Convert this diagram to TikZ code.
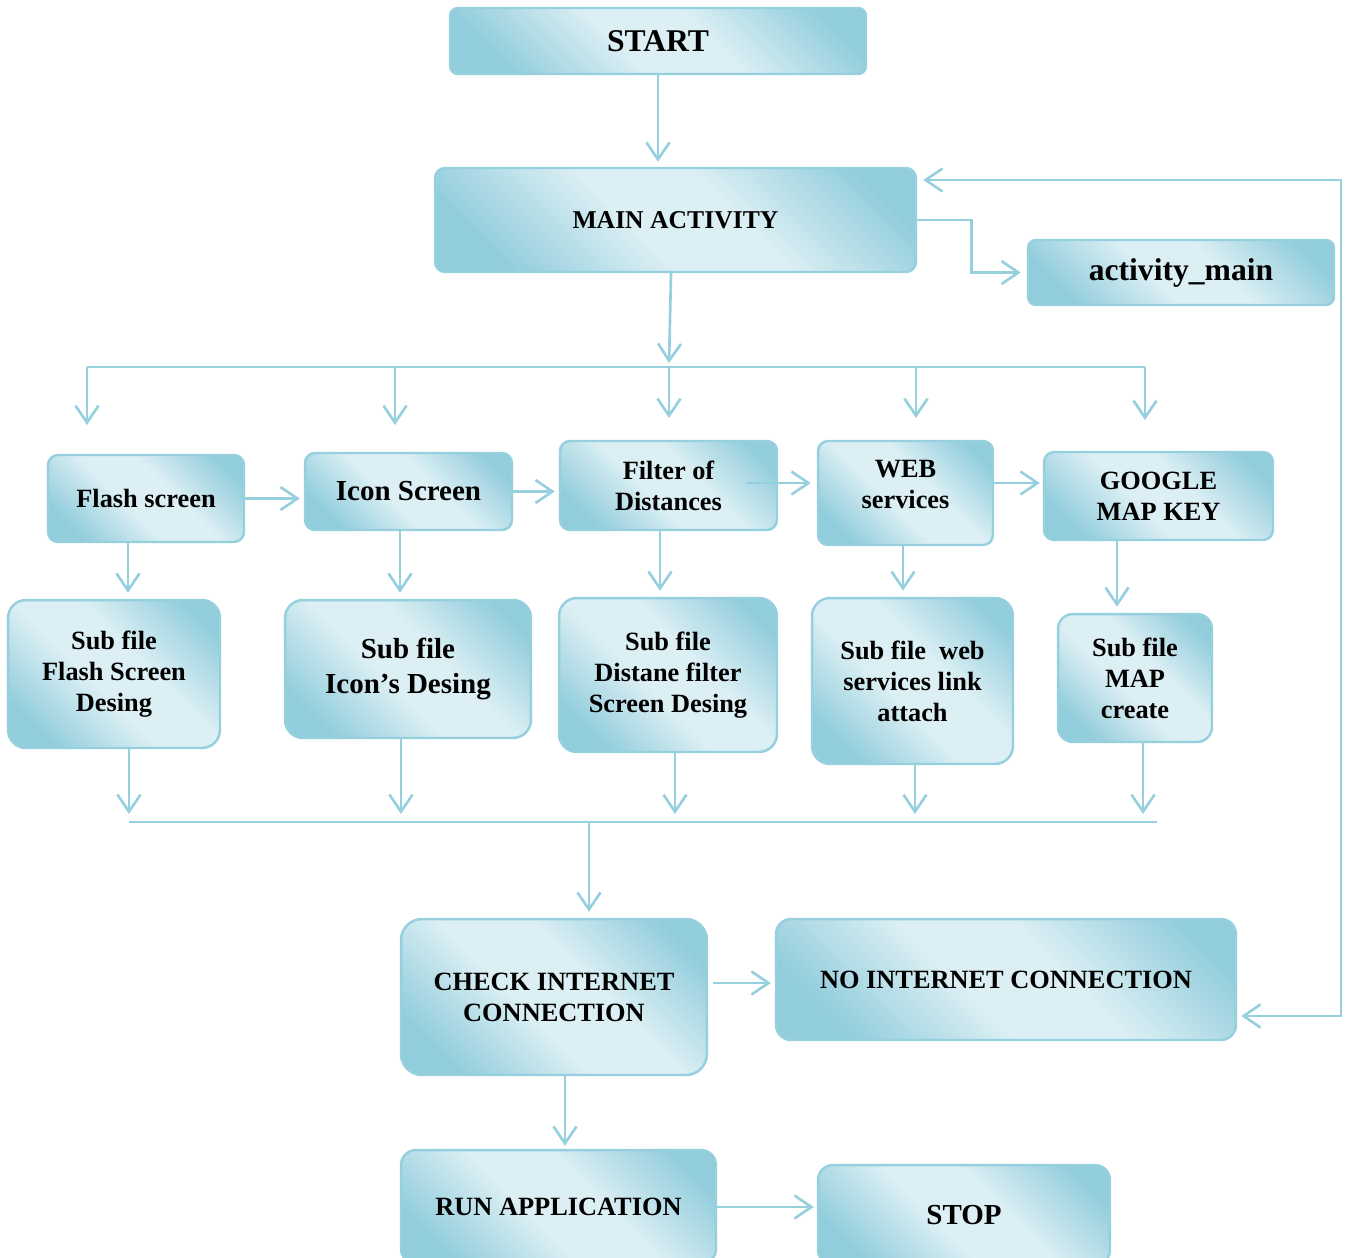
\documentclass[tikz,border=0pt]{standalone}
\usepackage{fontspec}
\setmainfont{Liberation Serif}
\usetikzlibrary{arrows.meta,
	calc,
	positioning}
\definecolor{boxdark}{HTML}{92CDDC}
\definecolor{boxlight}{HTML}{DCEFF4}
\definecolor{flowline}{HTML}{96CFDD}
\pgfdeclarehorizontalshading{boxshade}{100bp}{color(0bp)=(boxdark); color(24bp)=(boxdark); color(44bp)=(boxlight); color(58bp)=(boxlight); color(78bp)=(boxdark); color(100bp)=(boxdark)}
\tikzset{
	box/.style={draw=flowline, line width=1.4pt, rounded corners=0.2cm, shade, shading=boxshade, shading angle=45, align=center, inner sep=2pt, font=\bfseries\fontsize{15}{17.6}\selectfont},
	flow/.style={draw=flowline, line width=1.5pt},
	arr/.style={flow, -{Straight Barb[length=0.34cm, width=0.46cm]}},
	dblarr/.style={flow, {Straight Barb[length=0.34cm, width=0.46cm]}-{Straight Barb[length=0.34cm, width=0.46cm]}}
}

\begin{document}
\begin{tikzpicture}[x=0.02cm, y=-0.02cm]
                            \useasboundingbox (0,0) rectangle (1347,1258);
                            \node (start) [box, minimum width=8.32cm, minimum height=1.32cm, rounded corners=0.16cm, font=\bfseries\fontsize{18}{21}\selectfont] at (658,41) {START};
                            \node (main) [box, minimum width=9.62cm, minimum height=2.08cm, font=\bfseries\fontsize{14.6}{17}\selectfont] at (675.5,220) {MAIN ACTIVITY};
                            \node (actmain) [box, minimum width=6.12cm, minimum height=1.30cm, rounded corners=0.16cm, font=\bfseries\fontsize{18}{21}\selectfont] at (1181,272.5) {activity\_main};
                            % first row
                            \node (flash) [box, minimum width=3.92cm, minimum height=1.74cm] at (146,498.5) {Flash screen};
                            \node (icon) [box, minimum width=4.14cm, minimum height=1.54cm, font=\bfseries\fontsize{16.5}{19.8}\selectfont] at (408.5,491.5) {Icon Screen};
                            \node (filter) [box, minimum width=4.34cm, minimum height=1.78cm] at (668.5,485.5) {Filter of\\Distances};
                            \node (web) [box, minimum width=3.50cm, minimum height=2.08cm] at (905.5,493) {WEB\\services\rule[-10pt]{0pt}{10pt}};
                            \node (google) [box, minimum width=4.58cm, minimum height=1.76cm] at (1158.5,496) {GOOGLE\\MAP KEY};
                            % sub files
                            \node (subflash) [box, minimum width=4.24cm, minimum height=2.96cm, rounded corners=0.36cm] at (114,674) {Sub file\\Flash Screen\\Desing};
                            \node (subicon) [box, minimum width=4.92cm, minimum height=2.76cm, rounded corners=0.36cm, font=\bfseries\fontsize{16.5}{19.8}\selectfont] at (408,669) {Sub file\\Icon’s Desing};
                            \node (subfilter) [box, minimum width=4.36cm, minimum height=3.08cm, rounded corners=0.36cm] at (668,675) {Sub file\\Distane filter\\Screen Desing};
                            \node (subweb) [box, minimum width=4.02cm, minimum height=3.32cm, rounded corners=0.36cm] at (912.5,681) {Sub file\ \ web\\services link\\attach};
                            \node (submap) [box, minimum width=3.08cm, minimum height=2.56cm, rounded corners=0.3cm] at (1135,678) {Sub file\\MAP\\create};
                            % bottom part
                            \node (check) [box, minimum width=6.12cm, minimum height=3.12cm, rounded corners=0.42cm] at (554,997) {CHECK INTERNET\\CONNECTION};
                            \node (nonet) [box, minimum width=9.20cm, minimum height=2.42cm, rounded corners=0.3cm] at (1006,979.5) {NO INTERNET CONNECTION};
                            \node (run) [box, minimum width=6.30cm, minimum height=2.28cm, rounded corners=0.3cm] at (558.5,1207) {RUN APPLICATION};
                            \node (stop) [box, minimum width=5.84cm, minimum height=2.00cm, rounded corners=0.3cm, font=\bfseries\fontsize{16.5}{19.8}\selectfont] at (964,1215) {STOP};
                            % connectors
                            \draw[arr, shorten >=0.1cm] (start.south) -- (start.south |- main.north);
                            \draw[arr, shorten >=0.12cm] (main.east) -- ++(54,0) |- (actmain.west);
                            \coordinate (backtop) at (1341,180);
                            \coordinate (backbot) at (1341,1016);
                            \draw[dblarr, shorten <=0.12cm, shorten >=0.08cm] (main.east |- backtop) -- (backtop) -- (backbot) -- (nonet.east |- backbot);
                            \coordinate (busL) at (87,367);
                            \coordinate (busR) at (1145,367);
                            \draw[arr, shorten >=0.08cm] (main.south -| 671,0) -- (busL -| 669,0);
                            \draw[flow] (busL) -- (busR);
                            \foreach \n/\x/\y in {a/87/425, b/395/425, c/669/418, d/916/418, e/1145/420} {
                                \coordinate (drop\n) at (\x,\y);
                                \draw[arr] (busL -| drop\n) -- (drop\n);
                            }
                            \draw[arr, shorten >=0.08cm] (flash.east) -- (flash.east -| icon.west);
                            \draw[arr, shorten >=0.08cm] (icon.east) -- (icon.east -| filter.west);
                            \coordinate (fw) at ([xshift=-0.64cm, yshift=0.05cm]filter.east);
                            \draw[arr, shorten >=0.12cm] (fw) -- (fw -| web.west);
                            \coordinate (wg) at ([xshift=-0.06cm, yshift=0.2cm]web.east);
                            \draw[arr, shorten >=0.06cm] (wg) -- (wg -| google.west);
                            \foreach \a/\b/\x in {flash/subflash/128, icon/subicon/400, filter/subfilter/660, web/subweb/903, google/submap/1117}
                                \draw[arr, shorten >=0.12cm] (\a.south -| \x,0) -- (\b.north -| \x,0);
                            \coordinate (bus2L) at (129,822);
                            \coordinate (bus2R) at (1157,822);
                            \draw[flow] (bus2L) -- (bus2R);
                            \foreach \b/\x in {subflash/129, subicon/401, subfilter/675, subweb/915, submap/1143}
                                \draw[arr, shorten >=0.16cm] (\b.south -| \x,0) -- (bus2L -| \x,0);
                            \draw[arr, shorten >=0.12cm] (bus2L -| 589,0) -- (check.north -| 589,0);
                            \coordinate (cn) at ([yshift=0.28cm]check.east);
                            \draw[arr, shorten <=0.1cm, shorten >=0.08cm] (cn) -- (cn -| nonet.west);
                            \draw[arr, shorten >=0.06cm] (check.south -| 565,0) -- (run.north -| 565,0);
                            \draw[arr, shorten >=0.06cm] (run.east) -- (run.east -| stop.west);
                        \end{tikzpicture}
\end{document}
